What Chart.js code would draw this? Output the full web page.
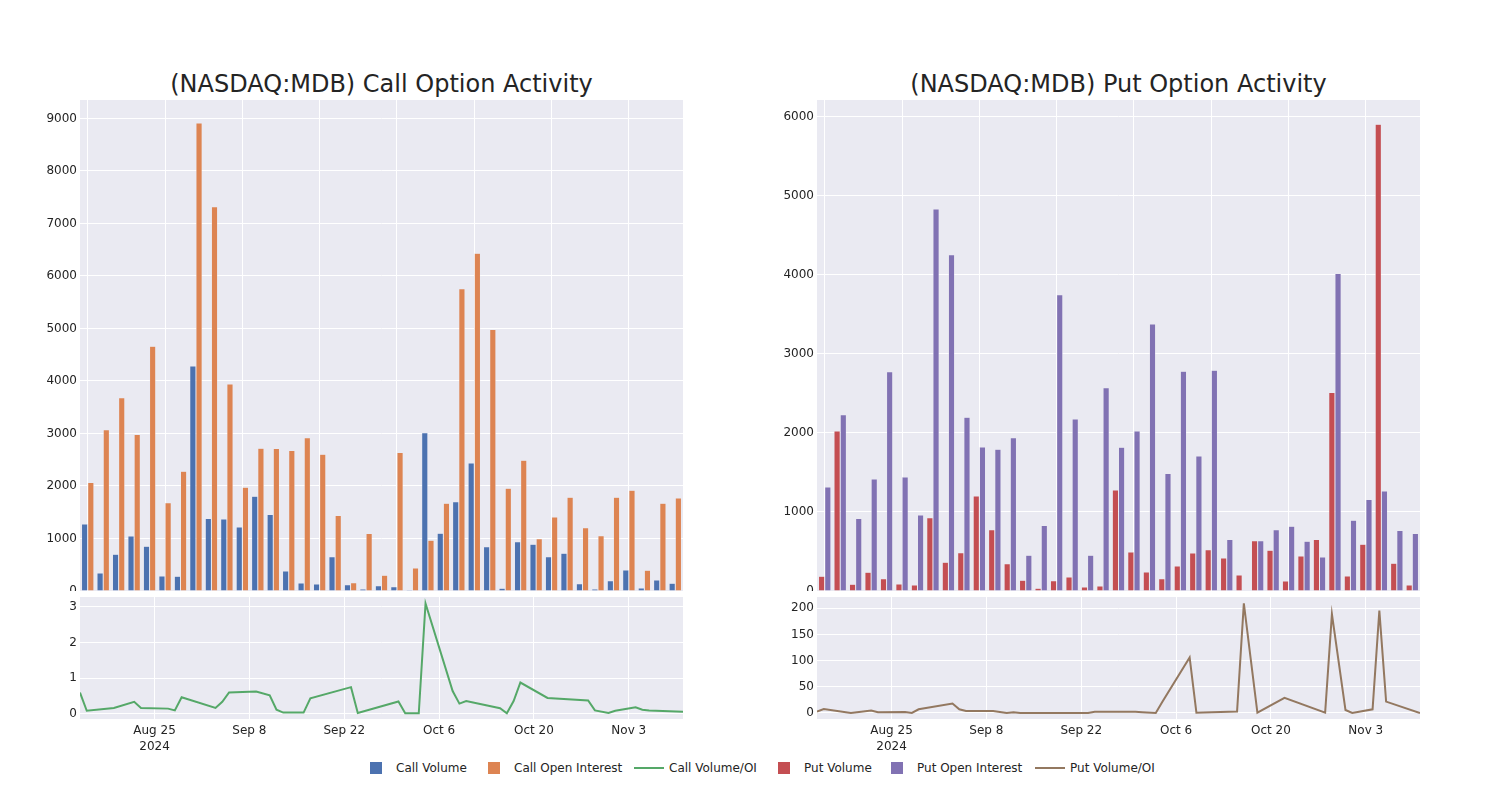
<!DOCTYPE html>
<html>
<head>
<meta charset="utf-8">
<script src="https://cdn.jsdelivr.net/npm/chart.js@4.4.1/dist/chart.umd.min.js"></script>
<style>
  body { margin: 0; width: 1500px; height: 800px; position: relative; overflow: hidden; background: #fff;
         font-family: "DejaVu Sans", sans-serif; color: rgb(36,36,36); }
  canvas { position: absolute; }
  .title { position: absolute; top: 69px; width: 603px; font-size: 24px; line-height: 30px; text-align: center; white-space: nowrap; }
  .leg { position: absolute; top: 760px; height: 16px; font-size: 12px; line-height: 16px; white-space: nowrap; }
  .leg .sym { position: absolute; top: 2px; }
  .leg span { position: absolute; left: 40px; top: 0; }
</style>
</head>
<body>
<div class="title" style="left:80px">(NASDAQ:MDB) Call Option Activity</div>
<div class="title" style="left:817px">(NASDAQ:MDB) Put Option Activity</div>

<canvas id="callBar" width="663" height="491" style="left:20px;top:100px"></canvas>
<canvas id="callLine" width="663" height="163" style="left:20px;top:597px"></canvas>
<canvas id="putBar" width="663" height="491" style="left:757px;top:100px"></canvas>
<canvas id="putLine" width="663" height="163" style="left:757px;top:597px"></canvas>

<div id="legend"></div>

<script>
// trading dates shown (bars are one category per date, lines are on a day axis)
const dates = ['2024-08-14','2024-08-15','2024-08-19','2024-08-22','2024-08-23','2024-08-27','2024-08-28','2024-08-29',
  '2024-09-03','2024-09-04','2024-09-05','2024-09-09','2024-09-11','2024-09-12','2024-09-13','2024-09-16','2024-09-17',
  '2024-09-23','2024-09-24','2024-09-30','2024-10-01','2024-10-03','2024-10-04','2024-10-08','2024-10-09','2024-10-10',
  '2024-10-15','2024-10-16','2024-10-17','2024-10-18','2024-10-22','2024-10-28','2024-10-29','2024-10-31','2024-11-01',
  '2024-11-04','2024-11-05','2024-11-06','2024-11-11'];

const callVolume = [1274, 344, 700, 1045, 854, 287, 280, 4287, 1382, 1369, 1217, 1803, 1459, 382, 153, 134, 650, 121, 38,
  102, 83, 19, 3013, 1102, 1701, 2439, 841, 51, 936, 892, 650, 720, 140, 38, 197, 401, 57, 210, 146];
const callOpenInterest = [2064, 3070, 3682, 2981, 4662, 1682, 2280, 8911, 7318, 3943, 1975, 2720, 2713, 2675, 2917, 2605,
  1439, 159, 1096, 299, 2637, 439, 968, 1669, 5758, 6433, 4981, 1955, 2490, 994, 1408, 1783, 1204, 1051, 1783, 1917, 395, 1669, 1771];
const callRatio = [0.60, 0.09, 0.17, 0.34, 0.17, 0.15, 0.10, 0.47, 0.17, 0.34, 0.60, 0.63, 0.52, 0.12, 0.04, 0.04, 0.44,
  0.75, 0.03, 0.35, 0.02, 0.02, 3.09, 0.64, 0.29, 0.36, 0.16, 0.02, 0.36, 0.88, 0.45, 0.38, 0.10, 0.03, 0.09, 0.19, 0.12, 0.10, 0.06];

const putVolume = [186, 2025, 84, 236, 156, 89, 76, 928, 363, 485, 1203, 776, 346, 135, 34, 131, 177, 51, 63, 1278, 494,
  240, 156, 316, 481, 523, 418, 203, 637, 515, 127, 443, 650, 2511, 190, 591, 5903, 350, 76];
const putOpenInterest = [1316, 2228, 916, 1418, 2772, 1443, 962, 4831, 4253, 2198, 1823, 1793, 1937, 451, 827, 3747, 2177,
  451, 2570, 1819, 2025, 3376, 1485, 2781, 1709, 2793, 650, 0, 637, 776, 819, 629, 430, 4017, 895, 1156, 1266, 764, 726];
const putRatio = [2.5, 7.6, 0, 4.5, 1.3, 2, 0, 7, 18, 7, 4, 4, 0, 1.3, 0, 0, 0, 0, 2.5, 2.5, 1.5, 0, 22, 106, 0.6, 1, 3,
  209.5, 105, 0.6, 29, 0.6, 189, 5.7, 0, 7, 195.5, 21.7, 0];

const tickDates = ['2024-08-25','2024-09-08','2024-09-22','2024-10-06','2024-10-20','2024-11-03'];
const tickLabels = [['Aug 25','2024'], 'Sep 8', 'Sep 22', 'Oct 6', 'Oct 20', 'Nov 3'];

const txt = 'rgb(36,36,36)';
const font = { family: 'DejaVu Sans', size: 12 };

function dayOf(s) {
  const p = s.split('-');
  return Date.UTC(+p[0], +p[1] - 1, +p[2]) / 86400000;
}
const day0 = dayOf(dates[0]);
const days = dates.map(d => dayOf(d) - day0);
const tickDays = tickDates.map(d => dayOf(d) - day0);

// fill the plot area like the seaborn style
const plotBg = {
  id: 'plotBg',
  beforeDraw(chart) {
    const a = chart.chartArea, ctx = chart.ctx;
    ctx.save();
    ctx.fillStyle = '#EAEAF2';
    ctx.fillRect(a.left, a.top, a.right - a.left, a.bottom - a.top);
    ctx.restore();
  }
};

function yAxis(min, max, step) {
  return {
    min: min, max: max,
    grid: { color: '#ffffff', drawTicks: false },
    border: { display: false },
    ticks: { padding: 3, color: txt, font: font, callback: v => String(v) },
    afterBuildTicks(axis) {
      const t = [];
      for (let v = Math.ceil(min / step) * step; v <= max; v += step) t.push({ value: v });
      axis.ticks = t;
    },
    afterFit(axis) { axis.width = 60; axis.paddingTop = 0; axis.paddingBottom = 0; }
  };
}

function barChart(id, vol, oi, c1, c2, ymax) {
  new Chart(document.getElementById(id), {
    type: 'bar',
    data: {
      labels: dates,
      datasets: [
        { data: vol, backgroundColor: c1, borderColor: '#EAEAF2', borderWidth: 0.5 },
        { data: oi, backgroundColor: c2, borderColor: '#EAEAF2', borderWidth: 0.5 }
      ]
    },
    options: {
      responsive: false, animation: false,
      categoryPercentage: 0.8, barPercentage: 1.0,
      layout: { padding: 0 },
      plugins: { legend: { display: false }, tooltip: { enabled: false } },
      scales: {
        x: {
          offset: true,
          grid: { offset: false, drawTicks: false, color: c => c.index % 5 === 0 ? '#ffffff' : 'rgba(0,0,0,0)' },
          border: { display: false },
          ticks: { display: false, autoSkip: false },
          afterFit(axis) { axis.height = 0; axis.paddingLeft = 0; axis.paddingRight = 0; }
        },
        y: yAxis(0, ymax, 1000)
      }
    },
    plugins: [plotBg]
  });
}

function lineChart(id, vals, color, ymin, ymax, step) {
  new Chart(document.getElementById(id), {
    type: 'line',
    data: {
      datasets: [{
        data: vals.map((v, i) => ({ x: days[i], y: v })),
        borderColor: color, borderWidth: 2, pointRadius: 0, tension: 0, fill: false
      }]
    },
    options: {
      responsive: false, animation: false,
      layout: { padding: 0 },
      plugins: { legend: { display: false }, tooltip: { enabled: false } },
      scales: {
        x: {
          type: 'linear', min: 0, max: days[days.length - 1],
          grid: { color: '#ffffff', drawTicks: false },
          border: { display: false },
          ticks: {
            padding: 3, color: txt, font: { family: 'DejaVu Sans', size: 12, lineHeight: 1.4 }, maxRotation: 0,
            callback: v => { const i = tickDays.indexOf(v); return i >= 0 ? tickLabels[i] : ''; }
          },
          afterBuildTicks(axis) { axis.ticks = tickDays.map(v => ({ value: v })); },
          afterFit(axis) { axis.height = 41; axis.paddingLeft = 0; axis.paddingRight = 0; }
        },
        y: yAxis(ymin, ymax, step)
      }
    },
    plugins: [plotBg]
  });
}

barChart('callBar', callVolume, callOpenInterest, '#4C72B0', '#DD8452', 9350);
lineChart('callLine', callRatio, '#55A868', -0.14, 3.27, 1);
barChart('putBar', putVolume, putOpenInterest, '#C44E52', '#8172B3', 6211);
lineChart('putLine', putRatio, '#937860', -11.5, 221.6, 50);

// shared legend along the bottom
const legendItems = [
  { name: 'Call Volume', color: '#4C72B0', kind: 'bar', left: 356 },
  { name: 'Call Open Interest', color: '#DD8452', kind: 'bar', left: 474 },
  { name: 'Call Volume/OI', color: '#55A868', kind: 'line', left: 629 },
  { name: 'Put Volume', color: '#C44E52', kind: 'bar', left: 764 },
  { name: 'Put Open Interest', color: '#8172B3', kind: 'bar', left: 877 },
  { name: 'Put Volume/OI', color: '#937860', kind: 'line', left: 1030 }
];
const leg = document.getElementById('legend');
legendItems.forEach(it => {
  const d = document.createElement('div');
  d.className = 'leg';
  d.style.left = it.left + 'px';
  const s = document.createElement('div');
  s.className = 'sym';
  if (it.kind === 'bar') {
    s.style.cssText = 'left:14px;top:2px;width:12px;height:12px;background:' + it.color;
  } else {
    s.style.cssText = 'left:5px;top:7px;width:30px;height:2px;background:' + it.color;
  }
  const t = document.createElement('span');
  t.textContent = it.name;
  d.appendChild(s);
  d.appendChild(t);
  leg.appendChild(d);
});
</script>
</body>
</html>
